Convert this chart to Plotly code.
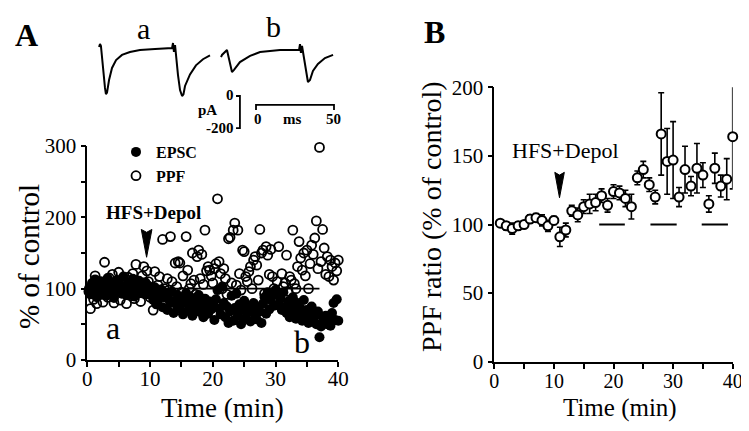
import plotly.graph_objects as go

W, H = 749, 431
FONT = "Liberation Serif"

# ---------------- Panel A data ----------------
time_a = [
    0.25, 0.5, 0.75, 1.0, 1.25, 1.5, 1.75, 2.0, 2.25, 2.5, 2.75, 3.0, 3.25, 3.5, 3.75, 4.0, 4.25, 4.5, 4.75, 5.0,
    5.25, 5.5, 5.75, 6.0, 6.25, 6.5, 6.75, 7.0, 7.25, 7.5, 7.75, 8.0, 8.25, 8.5, 8.75, 9.0, 9.25, 9.5, 9.75, 10.0,
    10.25, 10.5, 10.75, 11.0, 11.25, 11.5, 11.75, 12.0, 12.25, 12.5, 12.75, 13.0, 13.25, 13.5, 13.75, 14.0, 14.25, 14.5, 14.75, 15.0,
    15.25, 15.5, 15.75, 16.0, 16.25, 16.5, 16.75, 17.0, 17.25, 17.5, 17.75, 18.0, 18.25, 18.5, 18.75, 19.0, 19.25, 19.5, 19.75, 20.0,
    20.25, 20.5, 20.75, 21.0, 21.25, 21.5, 21.75, 22.0, 22.25, 22.5, 22.75, 23.0, 23.25, 23.5, 23.75, 24.0, 24.25, 24.5, 24.75, 25.0,
    25.25, 25.5, 25.75, 26.0, 26.25, 26.5, 26.75, 27.0, 27.25, 27.5, 27.75, 28.0, 28.25, 28.5, 28.75, 29.0, 29.25, 29.5, 29.75, 30.0,
    30.25, 30.5, 30.75, 31.0, 31.25, 31.5, 31.75, 32.0, 32.25, 32.5, 32.75, 33.0, 33.25, 33.5, 33.75, 34.0, 34.25, 34.5, 34.75, 35.0,
    35.25, 35.5, 35.75, 36.0, 36.25, 36.5, 36.75, 37.0, 37.25, 37.5, 37.75, 38.0, 38.25, 38.5, 38.75, 39.0, 39.25, 39.5, 39.75, 40.0,
]
epsc = [
    100, 92, 108, 97, 113, 88, 104, 99, 110, 94, 106, 90, 115, 101, 96, 109, 87, 103, 112, 98,
    105, 93, 117, 100, 91, 108, 102, 95, 114, 89, 106, 99, 111, 94, 103, 97, 109, 92, 104, 100,
    95, 84, 102, 78, 91, 87, 99, 74, 88, 93, 70, 85, 80, 96, 66, 83, 77, 90, 72, 86,
    64, 81, 94, 69, 78, 88, 62, 75, 84, 70, 91, 67, 79, 60, 86, 73, 65, 82, 71, 77,
    56, 85, 98, 72, 64, 103, 80, 60, 75, 52, 68, 90, 55, 73, 93, 62, 78, 50, 70, 83,
    58, 66, 76, 54, 72, 80, 63, 57, 74, 68, 52, 79, 88, 65, 95, 71, 84, 92, 76, 98,
    92, 78, 86, 70, 95, 74, 66, 82, 60, 76, 88, 68, 58, 80, 64, 72, 55, 84, 62, 70,
    52, 66, 75, 58, 63, 50, 68, 32, 47, 60, 54, 62, 50, 58, 48, 66, 80, 56, 85, 55,
]
ppf = [
    96, 72, 104, 85, 118, 79, 98, 110, 92, 81, 137, 102, 88, 115, 95, 120, 80, 107, 99, 123,
    84, 112, 94, 105, 79, 116, 101, 90, 121, 86, 134, 97, 108, 82, 118, 131, 93, 125, 110, 88,
    95, 70, 124, 88, 105, 117, 92, 169, 100, 80, 114, 98, 173, 110, 85, 136, 103, 138, 136, 95,
    118, 88, 173, 126, 100, 107, 150, 112, 92, 145, 154, 114, 148, 106, 182, 125, 131, 126, 118, 108,
    128, 135, 226, 138, 121, 100, 128, 114, 92, 170, 172, 108, 182, 192, 105, 182, 121, 98, 154, 152,
    117, 110, 124, 131, 100, 140, 145, 133, 112, 183, 150, 154, 93, 159, 147, 120, 155, 117, 100, 96,
    110, 159, 92, 121, 103, 108, 147, 96, 117, 112, 182, 107, 100, 131, 166, 143, 126, 150, 118, 154,
    100, 135, 161, 148, 171, 195, 128, 298, 138, 183, 157, 120, 145, 117, 140, 131, 112, 136, 125, 140,
]

# ---------------- Panel B data ----------------
time_b = [1, 2, 3, 4, 5, 6, 7, 8, 9, 10, 11, 12, 13, 14, 15, 16, 17, 18, 19, 20,
          21, 22, 23, 24, 25, 26, 27, 28, 29, 30, 31, 32, 33, 34, 35, 36, 37, 38, 39, 40]
ppf_ratio = [101, 99, 97, 99, 100, 104, 105, 103, 99, 103, 91, 96, 110, 107, 113, 115, 116, 121, 114, 124,
             123, 119, 113, 134, 140, 129, 120, 166, 146, 147, 120, 140, 128, 141, 136, 115, 141, 128, 133, 164]
ppf_sem = [2, 3, 4, 3, 2, 3, 3, 4, 4, 3, 7, 5, 4, 5, 5, 7, 6, 5, 5, 5,
           5, 6, 9, 5, 6, 5, 5, 30, 24, 28, 7, 17, 7, 18, 9, 6, 11, 8, 15, 38]

# ---------------- Sample current traces (ms, pA) ----------------
trace_a_t = [-0.6, 0, 0.6, 1.9, 3.2, 3.8, 4.5, 5.8, 7.7, 10.3, 14.1, 19.2, 25.6, 35.3, 46.2, 46.8, 47.4, 48.1,
             48.7, 50, 51.3, 52.6, 53.5, 54.5, 57.7, 61.5, 66, 70.5]
trace_a_i = [6, 24, 12, -133, -242, -279, -270, -194, -121, -73, -42, -24, -12, -6, 0, 30, -24, 18,
             -42, -164, -255, -291, -280, -230, -160, -105, -68, -45]
trace_b_t = [77.6, 78.2, 81.4, 82.7, 84.6, 85.9, 89.7, 96.2, 102.6, 115.4, 127.6, 128.2, 128.8, 129.5,
             130.8, 132, 133.3, 134.6, 136.5, 139.7, 144.2, 149.4]
trace_b_i = [-55, -42, -12, -61, -145, -133, -85, -48, -24, -12, -12, 24, -30, 12,
             -61, -145, -206, -194, -139, -97, -61, -42]

# the page body adds an 8px offset; positions below are given in window pixels
OFF = 8


def fx(p):
    return (p - OFF) / W


def fy(p):
    return 1 - (p - OFF) / H


fig = go.Figure()

# Panel A scatter
fig.add_trace(go.Scatter(
    x=time_a, y=ppf, mode="markers", name="<b>PPF</b>",
    marker=dict(symbol="circle-open", size=9, color="black", line=dict(width=1.8, color="black")),
    xaxis="x", yaxis="y", cliponaxis=False, showlegend=True, legendrank=2,
))
fig.add_trace(go.Scatter(
    x=time_a, y=epsc, mode="markers", name="<b>EPSC</b>",
    marker=dict(symbol="circle", size=10, color="black"),
    xaxis="x", yaxis="y", cliponaxis=False, showlegend=True, legendrank=1,
))

# Panel B
fig.add_trace(go.Scatter(
    x=time_b, y=ppf_ratio, mode="markers",
    error_y=dict(type="data", array=ppf_sem, color="black", thickness=1.6, width=3),
    marker=dict(symbol="circle", size=9, color="white", line=dict(width=2, color="black")),
    xaxis="x2", yaxis="y2", cliponaxis=False, showlegend=False,
))

# Sample traces
fig.add_trace(go.Scatter(x=trace_a_t, y=trace_a_i, mode="lines", line=dict(color="black", width=2),
                         xaxis="x3", yaxis="y3", showlegend=False))
fig.add_trace(go.Scatter(x=trace_b_t, y=trace_b_i, mode="lines", line=dict(color="black", width=2),
                         xaxis="x3", yaxis="y3", showlegend=False))

axis_common = dict(
    showline=True, linecolor="black", linewidth=1.6, showgrid=False, zeroline=False,
    ticks="outside", ticklen=5, tickwidth=1.6, tickcolor="black", automargin=False,
)
minor_common = dict(ticks="outside", ticklen=5, tickwidth=1.6, tickcolor="black")
tf21 = dict(family=FONT, size=21, color="black")
tf20 = dict(family=FONT, size=20, color="black")

fig.update_layout(
    template="none",
    width=W, height=H,
    margin=dict(l=0, r=0, t=0, b=0),
    paper_bgcolor="white", plot_bgcolor="white",
    font=dict(family=FONT, color="black"),
    xaxis=dict(domain=[fx(87.3), fx(338.3)], range=[0, 40], anchor="y",
               tickvals=[0, 10, 20, 30, 40], ticklabelstandoff=-6, tickfont=tf21,
               minor=dict(tickvals=[5, 15, 25, 35], **minor_common),
               **axis_common),
    yaxis=dict(domain=[fy(360), fy(146)], range=[0, 300], anchor="x",
               tickvals=[0, 100, 200, 300], tickfont=tf21,
               minor=dict(tickvals=[50, 150, 250], **minor_common),
               **axis_common),
    xaxis2=dict(domain=[fx(494.3), fx(732.7)], range=[0, 40], anchor="y2",
                tickvals=[0, 10, 20, 30, 40], ticklabelstandoff=-5, tickfont=tf20,
                minor=dict(tickvals=[5, 15, 25, 35], **minor_common),
                **axis_common),
    yaxis2=dict(domain=[fy(361.7), fy(87.3)], range=[0, 200], anchor="x2",
                tickvals=[0, 50, 100, 150, 200], tickfont=tf21,
                **axis_common),
    xaxis3=dict(domain=[fx(90), fx(345)], range=[-6.41, 157.05], visible=False, anchor="y3", automargin=False),
    yaxis3=dict(domain=[fy(140), fy(35)], range=[-557.5, 78.8], visible=False, anchor="x3", automargin=False),
    legend=dict(x=fx(116), y=fy(135), xanchor="left", yanchor="top", bgcolor="rgba(0,0,0,0)",
                font=dict(family=FONT, size=16, color="black"), tracegroupgap=0, itemwidth=30,
                traceorder="normal", borderwidth=0),
)

shapes = [
    # baseline line panel A
    dict(type="line", xref="x", yref="y", x0=0, x1=37, y0=100, y1=100, line=dict(color="black", width=1.6), layer="below"),
    # baseline segments panel B
    dict(type="line", xref="x2", yref="y2", x0=17.6, x1=21.9, y0=100, y1=100, line=dict(color="black", width=2)),
    dict(type="line", xref="x2", yref="y2", x0=26.2, x1=30.6, y0=100, y1=100, line=dict(color="black", width=2)),
    dict(type="line", xref="x2", yref="y2", x0=34.8, x1=39.2, y0=100, y1=100, line=dict(color="black", width=2)),
    # arrow panel A
    dict(type="path", xref="x", yref="y", path="M 8.6 183 L 9.45 144 L 10.3 183 L 9.45 179 Z",
         fillcolor="black", line=dict(color="black", width=1)),
    # arrow panel B
    dict(type="path", xref="x2", yref="y2", path="M 10.15 138 L 10.94 119.5 L 11.75 138 L 10.94 136 Z",
         fillcolor="black", line=dict(color="black", width=1)),
    # pA scale bar
    dict(type="path", xref="x3", yref="y3", path="M 87.2 -291 L 89.7 -291 L 89.7 -485 L 87.2 -485",
         line=dict(color="black", width=1.8)),
    # ms scale bar
    dict(type="path", xref="x3", yref="y3", path="M 100 -376 L 100 -345 L 150 -345 L 150 -376",
         line=dict(color="black", width=1.8)),
]
fig.update_layout(shapes=shapes)

ann = [
    dict(text="<b>A</b>", x=fx(26), y=fy(35), size=32),
    dict(text="<b>B</b>", x=fx(434), y=fy(32), size=32),
    dict(text="a", x=fx(143), y=fy(28), size=30),
    dict(text="b", x=fx(273), y=fy(26), size=30),
    dict(text="<b>pA</b>", x=fx(207), y=fy(110), size=15),
    dict(text="<b>0</b>", x=fx(230), y=fy(95), size=15),
    dict(text="<b>-200</b>", x=fx(220), y=fy(128), size=15),
    dict(text="<b>0</b>", x=fx(258), y=fy(119), size=15),
    dict(text="<b>ms</b>", x=fx(292), y=fy(119), size=15),
    dict(text="<b>50</b>", x=fx(333), y=fy(119), size=15),
    dict(text="Time (min)", x=fx(222), y=fy(408), size=27),
    dict(text="Time (min)", x=fx(620), y=fy(408), size=25),
]
annotations = [dict(text=a["text"], x=a["x"], y=a["y"], xref="paper", yref="paper", showarrow=False,
                    xanchor="center", yanchor="middle", font=dict(family=FONT, size=a["size"], color="black"))
               for a in ann]
annotations += [
    dict(text="% of control", x=fx(29), y=fy(257), xref="paper", yref="paper", showarrow=False, textangle=-90,
         xanchor="center", yanchor="middle", font=dict(family=FONT, size=29, color="black")),
    dict(text="PPF ratio (% of control)", x=fx(432), y=fy(217), xref="paper", yref="paper", showarrow=False,
         textangle=-90, xanchor="center", yanchor="middle", font=dict(family=FONT, size=28, color="black")),
    dict(text="<b>HFS+Depol</b>", x=10.6, y=207, xref="x", yref="y", showarrow=False,
         font=dict(family=FONT, size=19, color="black")),
    dict(text="HFS+Depol", x=11.9, y=154, xref="x2", yref="y2", showarrow=False,
         font=dict(family=FONT, size=22, color="black")),
    dict(text="a", x=4.1, y=45, xref="x", yref="y", showarrow=False,
         font=dict(family=FONT, size=32, color="black")),
    dict(text="b", x=34.2, y=25, xref="x", yref="y", showarrow=False,
         font=dict(family=FONT, size=32, color="black")),
]
fig.update_layout(annotations=annotations)

fig.write_html("out.html")
